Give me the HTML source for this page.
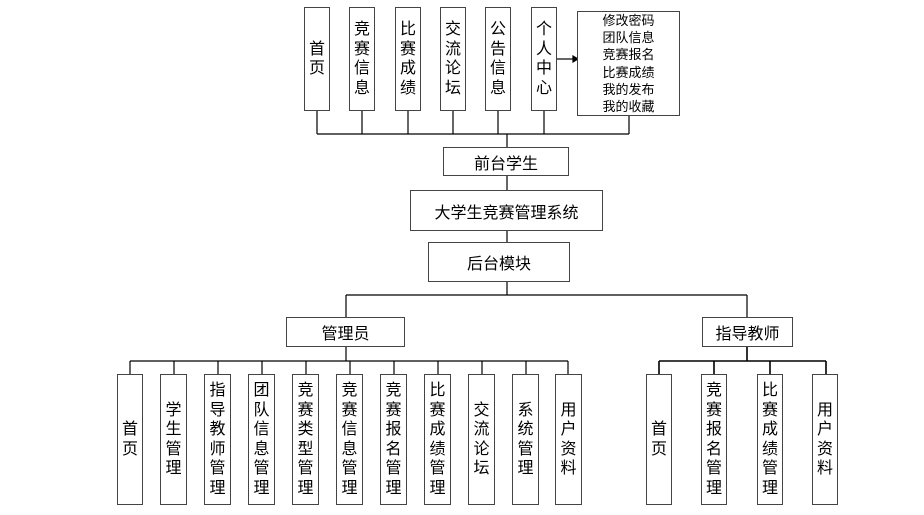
<!DOCTYPE html>
<html><head><meta charset="utf-8"><style>
body{margin:0;width:924px;height:515px;background:#fff;overflow:hidden;position:relative;font-family:"Liberation Sans","Noto Sans CJK SC",sans-serif;color:#000}
.b{position:absolute;border:1.5px solid #444;box-sizing:border-box;background:#fff;display:flex;align-items:center;justify-content:center}
.v{font-size:16px;line-height:19.5px;width:17px;word-break:break-all;text-align:center}
.h{font-size:16px}
svg{position:absolute;left:0;top:0}
</style></head><body>
<svg width="924" height="515" stroke="#000" stroke-width="1.2" fill="none">
<path d="M317 111V134M362 111V134M408 111V134M453 111V134M498 111V134M544 111V134M629 116V134M317 134H629M507 134V147M507 175V190M507 231V242M507 282V295M346 295H747M346 295V317M747 295V317"/>
<path d="M557 59H573"/><path d="M573 56L578 59L573 62Z" fill="#000"/>
<path d="M346 347V361M130 361H568M130 361V374M174 361V374M218 361V374M262 361V374M306 361V374M350 361V374M394 361V374M438 361V374M482 361V374M526 361V374M568 361V374"/>
<path d="M747 347V361M659 361H826M659 361V374M714 361V374M770 361V374M826 361V374" stroke-width="1.6"/>
</svg>
<div class="b" style="left:304px;top:7px;width:26px;height:104px"><div class="v">首页</div></div>
<div class="b" style="left:349px;top:7px;width:26px;height:104px"><div class="v">竞赛信息</div></div>
<div class="b" style="left:395px;top:7px;width:26px;height:104px"><div class="v">比赛成绩</div></div>
<div class="b" style="left:440px;top:7px;width:26px;height:104px"><div class="v">交流论坛</div></div>
<div class="b" style="left:485px;top:7px;width:26px;height:104px"><div class="v">公告信息</div></div>
<div class="b" style="left:531px;top:7px;width:26px;height:104px"><div class="v">个人中心</div></div>
<div class="b" style="left:577px;top:11px;width:103px;height:105px"><div style="font-size:13px;line-height:17.2px;text-align:center">修改密码<br>团队信息<br>竞赛报名<br>比赛成绩<br>我的发布<br>我的收藏</div></div>
<div class="b h" style="left:443px;top:147px;width:126px;height:29px">前台学生</div>
<div class="b h" style="left:410px;top:190px;width:193px;height:41px">大学生竞赛管理系统</div>
<div class="b h" style="left:428px;top:242px;width:142px;height:40px">后台模块</div>
<div class="b h" style="left:286px;top:317px;width:119px;height:30px">管理员</div>
<div class="b h" style="left:702px;top:317px;width:91px;height:30px">指导教师</div>
<div class="b" style="left:117px;top:374px;width:26px;height:131px"><div class="v">首页</div></div>
<div class="b" style="left:160px;top:374px;width:27px;height:131px"><div class="v">学生管理</div></div>
<div class="b" style="left:204px;top:374px;width:27px;height:131px"><div class="v">指导教师管理</div></div>
<div class="b" style="left:248px;top:374px;width:27px;height:131px"><div class="v">团队信息管理</div></div>
<div class="b" style="left:292px;top:374px;width:27px;height:131px"><div class="v">竞赛类型管理</div></div>
<div class="b" style="left:336px;top:374px;width:27px;height:131px"><div class="v">竞赛信息管理</div></div>
<div class="b" style="left:380px;top:374px;width:27px;height:131px"><div class="v">竞赛报名管理</div></div>
<div class="b" style="left:424px;top:374px;width:27px;height:131px"><div class="v">比赛成绩管理</div></div>
<div class="b" style="left:468px;top:374px;width:27px;height:131px"><div class="v">交流论坛</div></div>
<div class="b" style="left:512px;top:374px;width:27px;height:131px"><div class="v">系统管理</div></div>
<div class="b" style="left:555px;top:374px;width:27px;height:131px"><div class="v">用户资料</div></div>
<div class="b" style="left:646px;top:374px;width:26px;height:131px"><div class="v">首页</div></div>
<div class="b" style="left:701px;top:374px;width:26px;height:131px"><div class="v">竞赛报名管理</div></div>
<div class="b" style="left:757px;top:374px;width:26px;height:131px"><div class="v">比赛成绩管理</div></div>
<div class="b" style="left:812px;top:374px;width:26px;height:131px"><div class="v">用户资料</div></div>
</body></html>
